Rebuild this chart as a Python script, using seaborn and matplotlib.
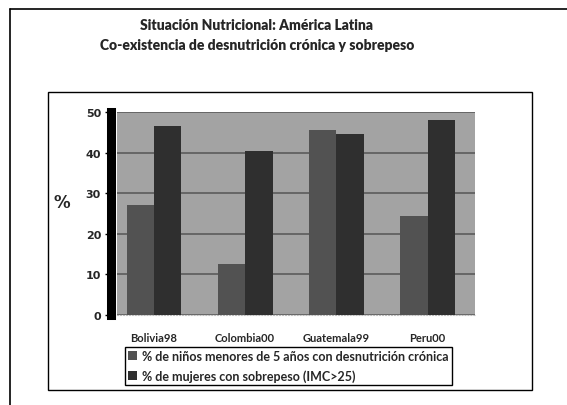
import pandas as pd
import matplotlib
matplotlib.use('Agg')
import matplotlib.pyplot as plt
import seaborn as sns
from matplotlib.patches import Rectangle
from matplotlib.lines import Line2D

# values
paises = ['Bolivia98', 'Colombia00', 'Guatemala99', 'Peru00']
desnutricion = [27, 12.5, 45.5, 24.5]
sobrepeso = [46.5, 40.5, 44.5, 48]
serie_1 = '% de niños menores de 5 años con desnutrición crónica'
serie_2 = '% de mujeres con sobrepeso (IMC>25)'

df = pd.DataFrame({
    'pais': paises * 2,
    'valor': desnutricion + sobrepeso,
    'serie': [serie_1] * len(paises) + [serie_2] * len(paises),
})

sns.set_style('white')
plt.rcParams['font.family'] = ['Lato', 'DejaVu Sans']

fig = plt.figure(figsize=(5.67, 4.06), dpi=100)
ax = fig.add_axes([117 / 567, 1 - 316 / 406, 358 / 567, 203 / 406])
ax.set_facecolor('#a3a3a3')

sns.barplot(data=df, x='pais', y='valor', hue='serie', order=paises,
            hue_order=[serie_1, serie_2], palette=['#525252', '#2f2f2f'],
            width=0.6, saturation=1, linewidth=0, ax=ax, zorder=3)
handles, labels = ax.get_legend_handles_labels()
if ax.get_legend() is not None:
    ax.get_legend().remove()

ax.set_xlim(-0.405, 3.52)
ax.set_ylim(0, 50)
ax.set_yticks([0, 10, 20, 30, 40, 50])
ax.yaxis.grid(True, color='#5c5c5c', linewidth=1.2, zorder=1)
ax.set_axisbelow(True)
ax.set_xlabel('')
ax.set_ylabel('')

for s in ['top', 'right']:
    ax.spines[s].set_visible(False)
ax.spines['left'].set_position(('outward', 4.5))
ax.spines['left'].set_linewidth(6.5)
ax.spines['left'].set_color('black')
ax.spines['bottom'].set_color('#bbbbbb')
ax.spines['bottom'].set_linestyle(':')

ax.tick_params(axis='y', left=True, length=4, width=1, color='black', pad=3)
ax.tick_params(axis='x', bottom=False, pad=9)
for t in ax.get_yticklabels():
    t.set_fontfamily('DejaVu Sans')
    t.set_fontweight('bold')
    t.set_fontsize(8)
for t in ax.get_xticklabels():
    t.set_fontweight('bold')
    t.set_fontsize(8)

fig.text(62 / 567, 1 - 203 / 406, '%', fontsize=12, fontweight='bold',
         family='DejaVu Sans', ha='center', va='center')

fig.text(257 / 567, 1 - 25 / 406, 'Situación Nutricional: América Latina',
         fontsize=10, fontweight='heavy', ha='center', va='center')
fig.text(257 / 567, 1 - 45 / 406, 'Co-existencia de desnutrición crónica y sobrepeso',
         fontsize=10, fontweight='heavy', ha='center', va='center')

fig.legend(handles, labels, loc='upper left',
           bbox_to_anchor=(125 / 567, 1 - 348 / 406), fancybox=False,
           edgecolor='black', framealpha=1, borderpad=0.25, labelspacing=0.55,
           handlelength=0.7, handleheight=0.7, handletextpad=0.4, borderaxespad=0,
           prop={'family': 'Lato', 'weight': 'bold', 'size': 9})

# chart frames
fig.patches.append(Rectangle((48 / 567, 1 - 391 / 406), 484 / 567, 298 / 406,
                             transform=fig.transFigure, fill=False,
                             edgecolor='black', linewidth=1))
fig.lines.append(Line2D([10 / 567, 1], [1 - 10 / 406, 1 - 10 / 406],
                        transform=fig.transFigure, color='black', linewidth=1.2))
fig.lines.append(Line2D([10 / 567, 10 / 567], [0, 1 - 10 / 406],
                        transform=fig.transFigure, color='black', linewidth=1.2))

fig.savefig('out.png', dpi=100)
